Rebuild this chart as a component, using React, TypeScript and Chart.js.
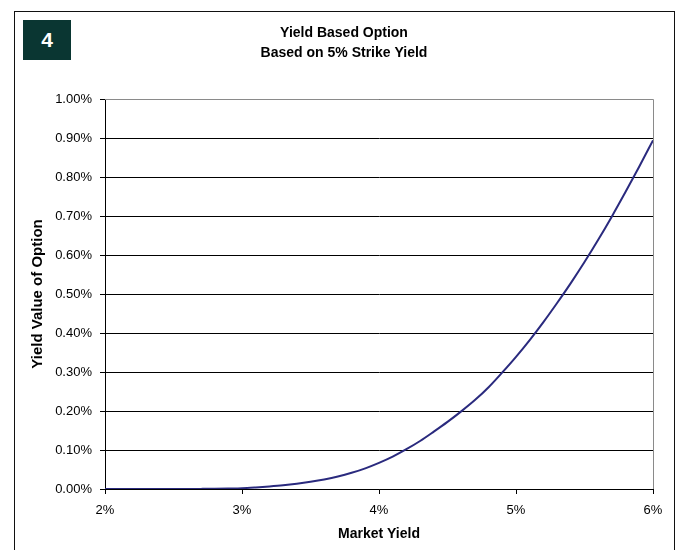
import React, { useEffect, useRef } from "react";
import { Chart, registerables } from "chart.js";

Chart.register(...registerables);

// Market yield (%) along the x axis
const marketYield = [
  2.0, 2.1, 2.2, 2.3, 2.4, 2.5, 2.6, 2.7, 2.8, 2.9,
  3.0, 3.1, 3.2, 3.3, 3.4, 3.5, 3.6, 3.7, 3.8, 3.9,
  4.0, 4.1, 4.2, 4.3, 4.4, 4.5, 4.6, 4.7, 4.8, 4.9,
  5.0, 5.1, 5.2, 5.3, 5.4, 5.5, 5.6, 5.7, 5.8, 5.9,
  6.0,
];

// Yield value of the option (%) at each market yield
const optionValue = [
  0.0, 0.0, 0.0, 0.0, 0.0, 0.0, 0.0001, 0.0003, 0.0006, 0.0012,
  0.002, 0.004, 0.0065, 0.0095, 0.0135, 0.0185, 0.0245, 0.032, 0.0415, 0.053,
  0.067, 0.083, 0.102, 0.123, 0.147, 0.172, 0.199, 0.228, 0.261, 0.299,
  0.339, 0.382, 0.428, 0.477, 0.528, 0.582, 0.639, 0.699, 0.762, 0.827,
  0.894,
];

const xTickLabels = ["2%", "3%", "4%", "5%", "6%"];
const yTickLabels = [
  "0.00%", "0.10%", "0.20%", "0.30%", "0.40%", "0.50%",
  "0.60%", "0.70%", "0.80%", "0.90%", "1.00%",
];

const titleLines = ["Yield Based Option", "Based on 5% Strike Yield"];
const xAxisTitle = "Market Yield";
const yAxisTitle = "Yield Value of Option";
const badgeText = "4";

const FONT = "'Liberation Sans', Arial, sans-serif";

// Gray frame on the top and right of the plot, plus the two-line heading
const framePlugin = {
  id: "frameAndHeading",
  beforeDatasetsDraw(chart: any) {
    const { ctx, chartArea: a } = chart;
    ctx.save();
    ctx.strokeStyle = "#8a8a8a";
    ctx.lineWidth = 1;
    ctx.beginPath();
    ctx.moveTo(Math.round(a.left), Math.round(a.top) + 0.5);
    ctx.lineTo(Math.round(a.right) + 0.5, Math.round(a.top) + 0.5);
    ctx.lineTo(Math.round(a.right) + 0.5, Math.round(a.bottom));
    ctx.stroke();
    ctx.restore();
  },
  afterDraw(chart: any) {
    const { ctx } = chart;
    ctx.save();
    ctx.fillStyle = "#000";
    ctx.font = `bold 14px ${FONT}`;
    ctx.textAlign = "center";
    ctx.textBaseline = "middle";
    ctx.fillText(titleLines[0], 344, 33);
    ctx.fillText(titleLines[1], 344, 53);
    ctx.restore();
  },
};

export default function App() {
  const canvasRef = useRef<HTMLCanvasElement | null>(null);

  useEffect(() => {
    document.body.style.margin = "0";
    const canvas = canvasRef.current;
    if (!canvas) return;

    const points = marketYield.map((x, i) => ({ x, y: optionValue[i] }));

    const chart = new Chart(canvas, {
      type: "line",
      data: {
        datasets: [
          {
            data: points,
            borderColor: "#2a2a7e",
            borderWidth: 2,
            pointRadius: 0,
            cubicInterpolationMode: "monotone",
            fill: false,
          },
        ],
      },
      options: {
        animation: false,
        responsive: false,
        devicePixelRatio: 1,
        layout: { padding: { left: 0, top: 99, right: 27, bottom: 0 } },
        plugins: {
          legend: { display: false },
          tooltip: { enabled: false },
          title: { display: false },
        },
        scales: {
          x: {
            type: "linear",
            min: 2,
            max: 6,
            afterFit: (s: any) => {
              s.height = 61;
            },
            ticks: {
              stepSize: 1,
              padding: 9,
              color: "#000",
              font: { family: FONT, size: 13 },
              maxRotation: 0,
              callback: (_v: any, i: number) => xTickLabels[i],
            },
            grid: {
              drawOnChartArea: false,
              drawTicks: true,
              tickLength: 5,
              color: "#000",
            },
            border: { display: true, color: "#000", width: 1 },
            title: {
              display: true,
              text: xAxisTitle,
              color: "#000",
              font: { family: FONT, size: 14, weight: "bold" },
              padding: { top: 0, bottom: 7 },
            },
          },
          y: {
            min: 0,
            max: 1,
            afterFit: (s: any) => {
              s.width = 105;
            },
            ticks: {
              stepSize: 0.1,
              padding: 8,
              color: "#000",
              font: { family: FONT, size: 13 },
              callback: (_v: any, i: number) => yTickLabels[i],
            },
            grid: {
              color: "#000",
              lineWidth: 1,
              tickLength: 5,
            },
            border: { display: true, color: "#000", width: 1 },
            title: {
              display: true,
              text: yAxisTitle,
              color: "#000",
              font: { family: FONT, size: 15, weight: "bold" },
              padding: { top: 29, bottom: 0 },
            },
          },
        },
      },
      plugins: [framePlugin],
    });

    return () => chart.destroy();
  }, []);

  return (
    <div
      style={{
        position: "relative",
        width: 680,
        height: 550,
        overflow: "hidden",
        background: "#fff",
      }}
    >
      <div
        style={{
          position: "absolute",
          left: 14,
          top: 11,
          width: 661,
          height: 600,
          border: "1px solid #111",
          boxSizing: "border-box",
        }}
      />
      <canvas
        ref={canvasRef}
        width={680}
        height={550}
        style={{ position: "absolute", left: 0, top: 0 }}
      />
      <div
        style={{
          position: "absolute",
          left: 23,
          top: 20,
          width: 48,
          height: 40,
          background: "#0a3632",
          color: "#fff",
          fontFamily: FONT,
          fontWeight: "bold",
          fontSize: 21,
          display: "flex",
          alignItems: "center",
          justifyContent: "center",
        }}
      >
        {badgeText}
      </div>
    </div>
  );
}
